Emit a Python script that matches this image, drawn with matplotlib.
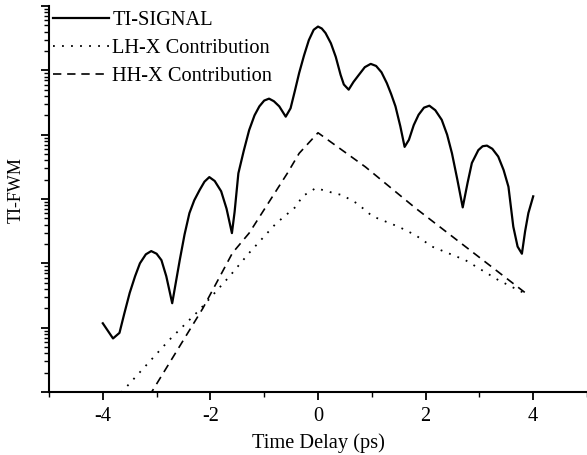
import numpy as np
import matplotlib
matplotlib.use("Agg")
import matplotlib.pyplot as plt
from matplotlib.ticker import LogLocator, NullFormatter, MultipleLocator

# TI-SIGNAL (solid)
sig_x = [-4.00, -3.81, -3.69, -3.60, -3.50, -3.40, -3.31, -3.20, -3.10, -3.00,
         -2.91, -2.82, -2.71, -2.57, -2.48, -2.39, -2.30, -2.20, -2.11, -2.02,
         -1.92, -1.80, -1.70, -1.60, -1.55, -1.48, -1.38, -1.28, -1.18, -1.09,
         -1.00, -0.91, -0.82, -0.72, -0.60, -0.51, -0.43, -0.35, -0.26, -0.17,
         -0.08, 0.00, 0.07, 0.14, 0.24, 0.33, 0.42, 0.48, 0.57, 0.66,
         0.76, 0.87, 0.98, 1.08, 1.18, 1.28, 1.36, 1.44, 1.53, 1.61,
         1.69, 1.78, 1.87, 1.97, 2.07, 2.18, 2.30, 2.40, 2.49, 2.59,
         2.69, 2.78, 2.86, 2.98, 3.06, 3.14, 3.24, 3.35, 3.45, 3.54,
         3.63, 3.71, 3.79, 3.85, 3.91, 4.00]
sig_y = [11.7, 6.8, 8.3, 16.6, 34.7, 63, 100, 138, 155, 141,
         112, 63, 24, 112, 282, 603, 955, 1380, 1860, 2190,
         1905, 1318, 708, 295, 631, 2510, 5620, 11750, 19950, 27540,
         33900, 36300, 33100, 27540, 19050, 25700, 47900, 91200, 170000, 295000,
         427000, 479000, 447000, 380000, 263000, 162000, 85100, 60300, 50100, 66100,
         85100, 112000, 126000, 117000, 93300, 63100, 42700, 27540, 13500, 6460,
         8320, 14100, 20400, 26300, 28200, 24000, 17000, 10000, 5130, 2000,
         741, 1780, 3630, 5750, 6610, 6760, 6030, 4570, 2820, 1550,
         372, 182, 141, 316, 603, 1100]

# LH-X contribution (dotted)
lh_x = [-4.00, -3.56, -2.76, -2.20, -1.65, -1.28, -0.78, -0.41, -0.29, -0.04,
        0.30, 0.45, 0.73, 1.01, 1.50, 1.81, 2.12, 2.74, 3.35, 3.91]
lh_y = [0.48, 1.2, 6.5, 19, 62, 145, 417, 760, 1100, 1480,
        1230, 1150, 850, 540, 370, 275, 182, 112, 55, 32]

# HH-X contribution (dashed)
hh_x = [-4.00, -3.07, -2.14, -1.59, -1.28, -0.57, -0.35, 0.00, 0.88, 1.81, 2.74, 3.91]
hh_y = [0.063, 1.07, 20, 145, 295, 2510, 5130, 10700, 3160, 724, 182, 32]

plt.rcParams["font.family"] = ["Liberation Serif", "DejaVu Serif"]
plt.rcParams["font.size"] = 14.7
plt.rcParams["axes.unicode_minus"] = False

fig = plt.figure(figsize=(5.87, 4.55), dpi=100)
ax = fig.add_axes([49 / 587, 63 / 455, 538 / 587, 386 / 455])

ax.plot(sig_x, sig_y, color="black", lw=1.6, label="TI-SIGNAL")
ax.plot(lh_x, lh_y, color="black", lw=1.3, linestyle=(0, (1, 4)),
        label="LH-X Contribution")
ax.plot(hh_x, hh_y, color="black", lw=1.2, linestyle=(0, (5, 3.5)),
        label="HH-X Contribution")

ax.set_yscale("log")
ax.set_ylim(1, 1e6)
ax.set_xlim(-5, 5)
ax.xaxis.set_major_locator(MultipleLocator(2))
ax.xaxis.set_minor_locator(MultipleLocator(1))
ax.yaxis.set_major_locator(LogLocator(base=10, numticks=10))
ax.yaxis.set_minor_locator(LogLocator(base=10, subs=np.arange(2, 10), numticks=20))
ax.yaxis.set_major_formatter(NullFormatter())
ax.yaxis.set_minor_formatter(NullFormatter())

for s in ("top", "right"):
    ax.spines[s].set_visible(False)
for s in ("left", "bottom"):
    ax.spines[s].set_linewidth(1.5)
ax.tick_params(which="major", direction="out", length=6, width=1.3, pad=5)
ax.tick_params(which="minor", direction="out", length=3.5, width=1.0)

ax.set_xlabel("Time Delay (ps)", labelpad=5)
ax.set_ylabel("TI-FWM", fontsize=13)
ax.yaxis.set_label_coords(-0.045, 0.523)

ax.legend(loc="upper left", bbox_to_anchor=(53 / 587, 444 / 455),
          bbox_transform=fig.transFigure, frameon=False,
          handlelength=2.75, handletextpad=0.15, labelspacing=0.42,
          borderaxespad=0, borderpad=0)

fig.savefig("out.png", dpi=100)
